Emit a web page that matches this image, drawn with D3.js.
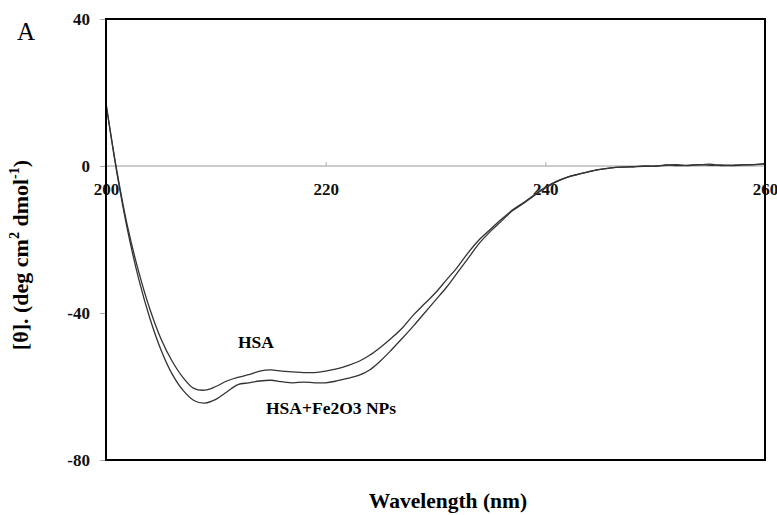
<!DOCTYPE html>
<html>
<head>
<meta charset="utf-8">
<script src="https://cdn.jsdelivr.net/npm/d3@7"></script>
<style>
  body { margin: 0; background: #fff; }
  text { font-family: "Liberation Serif", "Times New Roman", serif; }
</style>
</head>
<body>
<script>
// wavelength (nm)
var wavelength = [200,201,202,203,204,205,206,207,208,209,210,211,212,213,214,215,216,217,218,219,
                  220,221,222,223,224,225,226,227,228,229,230,231,232,233,234,235,236,237,238,239,
                  240,241,242,243,244,245,246,247,248,249,250,251,252,253,254,255,256,257,258,259,260];
// ellipticity, HSA
var hsa = [17,-1.5,-17,-29,-39,-47,-53,-57.5,-60.5,-61,-60,-58.5,-57.5,-56.8,-55.8,-55.5,-55.8,-56,-56.2,-56.2,
           -55.8,-55.2,-54.3,-53.2,-51.5,-49.3,-46.8,-44,-40.5,-37.5,-34.5,-31,-27.5,-23.5,-20,-17.2,-14.5,-12,-10,-7.8,
           -5.8,-4.2,-3,-2.2,-1.5,-0.9,-0.5,-0.3,-0.2,-0.1,0,0.2,0.4,0.1,0.3,0.5,0.1,0.2,0.3,0.4,0.6];
// ellipticity, HSA + Fe2O3 NPs
var hsaFe = [17,-2,-18,-31,-41.5,-50,-56.5,-61,-63.8,-64.5,-63.5,-61.5,-59.5,-59,-58.5,-58.3,-58.7,-59,-58.8,-59,
             -59,-58.5,-57.8,-57,-55.5,-53,-50,-46.8,-43.5,-40,-36.5,-33,-29,-25,-21,-17.8,-15,-12.2,-10.2,-8,
             -6,-4.3,-3.1,-2.3,-1.5,-0.9,-0.5,-0.3,-0.2,0,-0.1,0.3,0.1,0.2,0.4,0.2,0.3,0.1,0.3,0.4,0.6];
var xTicks = [200,220,240,260];
var yTicks = [40,0,-40,-80];

var W=777, H=515;
var mLeft=106, mRight=765, mTop=19, mBottom=460;

var svg=d3.select('body').append('svg')
          .attr('width',W)
          .attr('height',H);

var x=d3.scaleLinear().domain([200,260]).range([mLeft,mRight]);
var y=d3.scaleLinear().domain([-80,40]).range([mBottom,mTop]);

// zero line
svg.append('line')
   .attr('x1',mLeft).attr('x2',mRight)
   .attr('y1',y(0)).attr('y2',y(0))
   .attr('stroke','#999').attr('stroke-width',1);

// y axis ticks
var yAxis=svg.append('g').attr('transform','translate('+mLeft+',0)')
   .call(d3.axisLeft(y).tickValues(yTicks).tickSize(6).tickPadding(10)
           .tickFormat(function(d){return String(d);}));
yAxis.select('.domain').remove();
yAxis.selectAll('line').attr('stroke','#aaa');
yAxis.selectAll('text')
     .attr('font-family','Liberation Serif')
     .attr('font-weight','bold')
     .attr('font-size',17)
     .attr('fill','#111');

// x axis on zero line, ticks pointing up, labels below
var xAxis=svg.append('g').attr('transform','translate(0,'+y(0)+')')
   .call(d3.axisBottom(x).tickValues(xTicks).tickSize(-4).tickPadding(17)
           .tickFormat(function(d){return String(d);}));
xAxis.select('.domain').remove();
xAxis.selectAll('line').attr('stroke','#aaa');
xAxis.selectAll('text')
     .attr('font-family','Liberation Serif')
     .attr('font-weight','bold')
     .attr('font-size',17)
     .attr('fill','#111');

var line=function(vals){
  return d3.line()
           .x(function(d,i){return x(wavelength[i]);})
           .y(function(d){return y(d);})
           .curve(d3.curveCatmullRom)(vals);
};

[hsa,hsaFe].forEach(function(s){
  svg.append('path')
     .attr('d',line(s))
     .attr('fill','none')
     .attr('stroke','#333')
     .attr('stroke-width',1.3);
});

// frame
svg.append('rect')
   .attr('x',mLeft).attr('y',mTop)
   .attr('width',mRight-mLeft).attr('height',mBottom-mTop)
   .attr('fill','none').attr('stroke','#000').attr('stroke-width',2);

// labels
svg.append('text').attr('x',238).attr('y',348)
   .attr('font-weight','bold').attr('font-size',17.5).text('HSA');
svg.append('text').attr('x',266).attr('y',414)
   .attr('font-weight','bold').attr('font-size',17.5).text('HSA+Fe2O3 NPs');

svg.append('text').attr('x',17).attr('y',40)
   .attr('font-size',25).text('A');

svg.append('text').attr('x',448).attr('y',508)
   .attr('text-anchor','middle')
   .attr('font-weight','bold').attr('font-size',21.5).text('Wavelength (nm)');

var yl=svg.append('text')
   .attr('transform','translate(28,255) rotate(-90)')
   .attr('text-anchor','middle')
   .attr('font-weight','bold').attr('font-size',22);
yl.append('tspan').text('[θ]. (deg cm');
yl.append('tspan').attr('font-size',14).attr('dy',-9).text('2');
yl.append('tspan').attr('dy',9).text(' dmol');
yl.append('tspan').attr('font-size',14).attr('dy',-9).text('-1');
yl.append('tspan').attr('dy',9).text(')');
</script>
</body>
</html>
